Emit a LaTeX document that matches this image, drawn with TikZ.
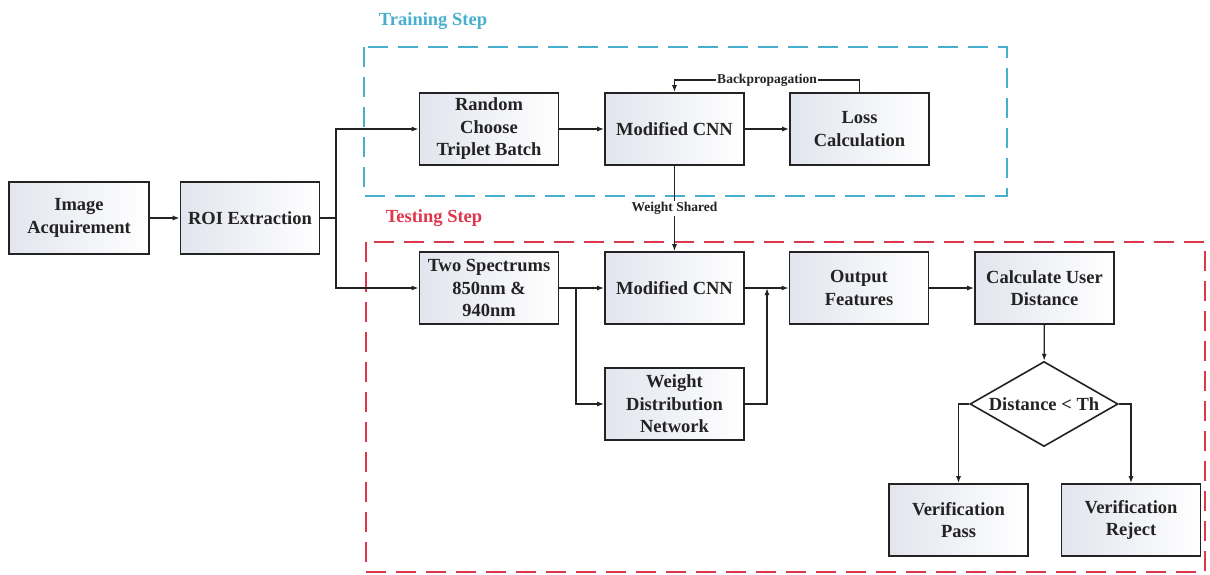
\documentclass[tikz,border=0pt]{standalone}
\usepackage{fontspec}
\setmainfont{Liberation Serif}
\usetikzlibrary{arrows.meta,shapes.geometric}
\definecolor{trainc}{RGB}{70,175,205}
\definecolor{testc}{RGB}{222,55,75}
\definecolor{boxl}{RGB}{226,229,238}
\definecolor{ink}{RGB}{35,35,35}
\begin{document}
\begin{tikzpicture}[x=1pt,y=-1pt,
  box/.style={draw=ink, line width=1.6pt, minimum width=139pt, minimum height=72pt,
    align=center, inner sep=2pt, left color=boxl, right color=white, text=ink,
    font=\bfseries\fontsize{18.5}{22.5}\selectfont},
  arr/.style={-{Latex[length=7pt,width=5pt]}, line width=1.3pt, draw=ink},
  ln/.style={line width=1.3pt, draw=ink},
  lbl/.style={fill=white, inner sep=1pt, text=ink, font=\bfseries\fontsize{13.5}{15}\selectfont},
  ttl/.style={font=\bfseries\fontsize{18.5}{22}\selectfont},
  region/.style={line width=1.8pt, dash pattern=on 20pt off 10pt}]
\useasboundingbox (0,0) rectangle (1210,574);
% regions
\draw[region, trainc] (364,47) rectangle (1007,196);
\draw[region, testc] (366,242) rectangle (1205,572);
\node[ttl, text=trainc] (trl) at (433,21) {Training Step};
\node[ttl, text=testc] (tel) at (434,218) {Testing Step};
% nodes
\node[box, minimum width=140pt] (ia) at (79,218) {Image\\Acquirement};
\node[box] (roi) at (250,218) {ROI Extraction};
\node[box] (rc) at (489,129) {Random\\Choose\\Triplet Batch};
\node[box] (cnn1) at (674.5,129) {Modified CNN};
\node[box] (loss) at (859.5,129) {Loss\\Calculation};
\node[box] (ts) at (489,288) {Two Spectrums\\850nm \&\\940nm};
\node[box] (cnn2) at (674.5,288) {Modified CNN};
\node[box] (wdn) at (674.5,404) {Weight\\Distribution\\Network};
\node[box] (of) at (859,288) {Output\\Features};
\node[box] (cud) at (1044.5,288) {Calculate User\\Distance};
\node[draw=ink, line width=1.6pt, shape=diamond, aspect=1.74, minimum width=148pt,
  minimum height=85pt, inner sep=0pt, fill=white, text=ink,
  font=\bfseries\fontsize{18.5}{22}\selectfont] (dia) at (1044,404) {Distance < Th};
\node[box] (vp) at (958.5,520) {Verification\\Pass};
\node[box] (vr) at (1131,520) {Verification\\Reject};
% connectors
\draw[arr] (ia) -- (roi);
\coordinate (sp) at (336,218);
\draw[ln] (roi.east) -- (sp);
\draw[arr] (sp) |- (rc.west);
\draw[arr] (sp) |- (ts.west);
\draw[arr] (rc) -- (cnn1);
\draw[arr] (cnn1) -- (loss);
\coordinate (bp1) at (859.5,80);
\coordinate (bp2) at (674.5,80);
\draw[arr] (loss.north) -- (bp1) -- node[lbl]{Backpropagation} (bp2) -- (cnn1.north);
\draw[arr] (cnn1.south) -- node[lbl]{Weight Shared} (cnn2.north);
\draw[arr] (ts) -- (cnn2);
\coordinate (br) at (576,288);
\draw[arr] (br) |- (wdn.west);
\draw[arr] (cnn2) -- (of);
\coordinate (mg) at (767,288);
\draw[arr] (wdn.east) -| (mg);
\draw[arr] (of) -- (cud);
\draw[arr] (cud) -- (dia);
\draw[arr] (dia.west) -| (vp.north);
\draw[arr] (dia.east) -| (vr.north);
\end{tikzpicture}
\end{document}
